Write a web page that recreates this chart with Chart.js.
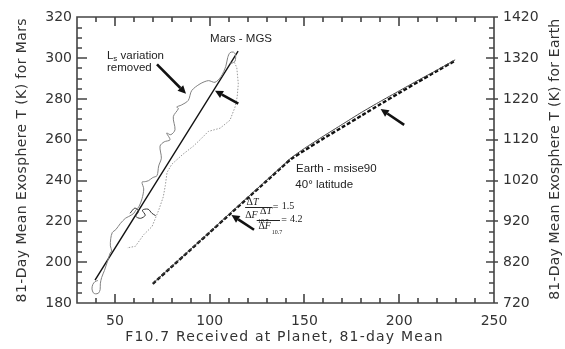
<!DOCTYPE html>
<html><head><meta charset="utf-8">
<style>html,body{margin:0;padding:0;background:#fff;}canvas{display:block;}</style>
<script src="https://cdn.jsdelivr.net/npm/chart.js@4.4.1/dist/chart.umd.min.js"></script>
</head><body>
<canvas id="c" width="565" height="349"></canvas>
<script>
// ---- data ----
const xTickLabels = [50, 100, 150, 200, 250];
const marsTickLabels = [180, 200, 220, 240, 260, 280, 300, 320];
const earthTickLabels = [720, 820, 920, 1020, 1120, 1220, 1320, 1420];

const marsFitF = [39.5, 115.0];
const marsFitT = [191.2, 303.5];

const marsTraceAF = [41.0,39.5,38.3,37.9,38.6,39.7,41.3,42.2,42.3,43.0,44.5,46.7,47.5,48.3,47.6,47.8,48.6,50.5,52.9,55.5,57.3,59.9,61.0,62.6,64.3,65.2,64.3,66.0,67.8,70.0,72.2,73.1,74.5,73.8,76.0,79.1,77.3,79.5,81.7,80.8,83.5,82.6,85.0,88.7,90.5,94.9,99.3,102.8,106.0,108.5,109.5,110.7,112.5,113.6,113.4,111.5,110.7];
const marsTraceAT = [191.0,190.5,189.0,186.9,185.0,184.5,184.8,186.5,189.4,192.5,196.0,202.2,204.5,205.5,208.0,211.5,214.5,216.0,219.0,221.5,222.4,223.9,225.5,227.1,231.1,235.9,239.2,239.5,240.0,241.5,242.4,247.2,251.0,256.9,259.0,260.0,263.3,262.5,264.9,271.3,275.3,276.1,277.0,279.3,284.1,287.4,289.0,288.2,291.0,296.0,300.3,302.7,303.0,301.8,298.6,297.5,297.8];

const marsTraceBF = [113.0,114.3,115.1,114.5,113.4,110.7,105.5,99.3,94.9,91.4,86.0,80.0,77.5,76.6,75.5,73.1,69.6,65.2,60.8,56.4];
const marsTraceBT = [298.0,295.4,287.4,281.0,276.1,269.6,265.7,264.1,260.0,256.9,253.0,248.0,244.0,237.6,232.0,225.5,217.5,213.5,207.8,207.0];

const marsTangleF = [58.0,60.5,62.5,61.0,63.5,66.0,64.5,67.5,69.5,71.5];
const marsTangleT = [224.0,226.5,225.0,222.5,221.5,223.0,225.5,226.0,224.0,222.8];

const earthF = [70, 80, 90, 100, 110, 120, 130, 140, 143, 150, 160, 170, 180, 190, 200, 210, 220, 229.5];
const earthDashedT = [767, 809, 851, 893, 935, 977, 1019, 1061, 1073, 1094, 1123, 1151, 1179, 1207, 1235, 1262, 1289, 1314];
const earthSolidT  = [768, 810, 852, 894, 937, 979, 1021, 1063, 1076, 1099, 1129, 1158, 1187, 1214, 1240, 1266, 1291, 1316];

const zip = (a, b) => a.map((v, i) => ({x: v, y: b[i]}));

const FONT = 'DejaVu Sans';
const TXT = '#333';

// ---- annotations, frame, IDL-style ticks, titles ----
const idlPlugin = {
  id: 'idl',
  afterDraw(chart) {
    const ctx = chart.ctx, a = chart.chartArea;
    const sx = chart.scales.x, sy = chart.scales.y, sy2 = chart.scales.y2;
    const P = (fx, ty) => [sx.getPixelForValue(fx), sy.getPixelForValue(ty)];
    ctx.save();
    const L = Math.round(a.left), R = Math.round(a.right), T = Math.round(a.top), B = Math.round(a.bottom);
    ctx.strokeStyle = '#444'; ctx.lineWidth = 1.6; ctx.lineCap = 'butt';
    ctx.beginPath();
    // frame
    ctx.rect(L, T, R - L, B - T);
    // inward ticks
    const xs = [];
    for (let v = 30; v <= 250; v += 10) xs.push(v);
    xs.forEach(v => {
      const px = Math.round(sx.getPixelForValue(v));
      const len = xTickLabels.includes(v) ? 9 : 5;
      ctx.moveTo(px, B); ctx.lineTo(px, B - len);
      ctx.moveTo(px, T); ctx.lineTo(px, T + len);
    });
    for (let v = 180; v <= 320; v += 5) {
      const py = Math.round(sy.getPixelForValue(v));
      const len = marsTickLabels.includes(v) ? 10 : 5;
      ctx.moveTo(L, py); ctx.lineTo(L + len, py);
    }
    for (let v = 720; v <= 1420; v += 25) {
      const py = Math.round(sy2.getPixelForValue(v));
      if (earthTickLabels.includes(v)) { ctx.moveTo(R - 8, py); ctx.lineTo(R + 4, py); }
      else { ctx.moveTo(R - 5, py); ctx.lineTo(R, py); }
    }
    ctx.stroke();

    // arrows
    const arrow = (t, h) => {
      const p1 = P(t[0], t[1]); const p2 = P(h[0], h[1]);
      const ang = Math.atan2(p2[1] - p1[1], p2[0] - p1[0]);
      const hl = 8, hw = 4;
      const bx = p2[0] - hl * Math.cos(ang), by = p2[1] - hl * Math.sin(ang);
      ctx.strokeStyle = '#111'; ctx.fillStyle = '#111'; ctx.lineWidth = 2.6;
      ctx.beginPath(); ctx.moveTo(p1[0], p1[1]); ctx.lineTo(bx, by); ctx.stroke();
      ctx.beginPath(); ctx.moveTo(p2[0], p2[1]);
      ctx.lineTo(bx + hw * Math.sin(ang), by - hw * Math.cos(ang));
      ctx.lineTo(bx - hw * Math.sin(ang), by + hw * Math.cos(ang));
      ctx.closePath(); ctx.fill();
    };
    arrow([72.2, 297.0], [87.5, 282.6]);
    arrow([115.1, 277.7], [102.8, 284.1]);
    arrow([202.6, 267.3], [190.2, 275.1]);
    arrow([123.4, 215.9], [111.5, 223.1]);

    // sans annotations
    ctx.fillStyle = '#222'; ctx.textBaseline = 'middle'; ctx.textAlign = 'left';
    const sans = '11.5px "Liberation Sans", Arial, sans-serif';
    ctx.font = sans;
    let q = P(100.2, 309.3); ctx.fillText('Mars - MGS', q[0], q[1]);
    q = P(45.8, 301.0);
    ctx.fillText('L', q[0], q[1]);
    const w = ctx.measureText('L').width;
    ctx.font = '8px "Liberation Sans", Arial, sans-serif'; ctx.fillText('s', q[0] + w, q[1] + 3);
    const w2 = ctx.measureText('s').width;
    ctx.font = sans; ctx.fillText(' variation', q[0] + w + w2, q[1]);
    q = P(45.8, 295.4); ctx.fillText('removed', q[0], q[1]);
    q = P(145.6, 245.6); ctx.fillText('Earth - msise90', q[0], q[1]);
    q = P(145.2, 238.0); ctx.fillText('40\u00B0 latitude', q[0], q[1]);

    // serif fraction annotations
    const serif = '10px "Liberation Serif", "Times New Roman", serif';
    const serifI = 'italic 10px "Liberation Serif", "Times New Roman", serif';
    const dl = (fx, ty0, letter) => {
      const p = P(fx, ty0);
      ctx.font = serif; ctx.fillText('\u0394', p[0], p[1]);
      const dw = ctx.measureText('\u0394').width;
      ctx.font = serifI; ctx.fillText(letter, p[0] + dw, p[1]);
    };
    const bar = (f1, f2, t0) => {
      const p1 = P(f1, t0), p2 = P(f2, t0);
      ctx.fillRect(p1[0], Math.round(p1[1]), p2[0] - p1[0], 1);
    };
    const txt = (fx, t0, s, f) => { const p = P(fx, t0); ctx.font = f || serif; ctx.fillText(s, p[0], p[1]); };
    const sub = '6px "Liberation Serif", serif';
    dl(119.4, 229.5, 'T');
    bar(118.7, 132.8, 227.1);
    dl(118.7, 223.1, 'F');
    txt(125.5, 220.0, '10.7', sub);
    txt(133.3, 227.1, '=');
    txt(138.0, 227.6, '1.5');
    dl(126.6, 224.7, 'T');
    bar(124.8, 137.1, 220.7);
    dl(125.7, 217.5, 'F');
    txt(132.7, 214.8, '10.7', sub);
    txt(137.8, 220.7, '=');
    txt(142.4, 220.9, '4.2');

    // axis titles
    ctx.fillStyle = TXT; ctx.textAlign = 'center'; ctx.textBaseline = 'middle';
    ctx.font = '14px "' + FONT + '"';
    ctx.letterSpacing = '1.2px';
    ctx.fillText('F10.7 Received at Planet, 81-day Mean', (a.left + a.right) / 2 - 1, 337);
    ctx.letterSpacing = '0.4px';
    ctx.save(); ctx.translate(22, (a.top + a.bottom) / 2); ctx.rotate(-Math.PI / 2);
    ctx.fillText('81-Day Mean Exosphere T (K) for Mars', 0, 0); ctx.restore();
    ctx.letterSpacing = '0.2px';
    ctx.save(); ctx.translate(555, (a.top + a.bottom) / 2 - 1); ctx.rotate(-Math.PI / 2);
    ctx.fillText('81-Day Mean Exosphere T (K) for Earth', 0, 0); ctx.restore();
    ctx.letterSpacing = '0px';
    ctx.restore();
  }
};

new Chart(document.getElementById('c'), {
  type: 'line',
  data: {
    datasets: [
      {data: zip(marsTraceBF, marsTraceBT), yAxisID: 'y', borderColor: '#9a9a9a', borderWidth: 1, borderDash: [1.5, 1.5], pointRadius: 0, tension: 0},
      {data: zip(marsTraceAF, marsTraceAT), yAxisID: 'y', borderColor: '#808080', borderWidth: 1, pointRadius: 0, tension: 0.3},
      {data: zip(marsTangleF, marsTangleT), yAxisID: 'y', borderColor: '#333', borderWidth: 1, pointRadius: 0, tension: 0.3},
      {data: zip(marsFitF, marsFitT), yAxisID: 'y', borderColor: '#111', borderWidth: 1.4, pointRadius: 0},
      {data: zip(earthF, earthSolidT), yAxisID: 'y2', borderColor: '#444', borderWidth: 1, pointRadius: 0, tension: 0.15},
      {data: zip(earthF, earthDashedT), yAxisID: 'y2', borderColor: '#111', borderWidth: 2.4, borderDash: [4, 2], pointRadius: 0, tension: 0.15}
    ]
  },
  options: {
    responsive: false, animation: false, devicePixelRatio: 1,
    layout: {padding: {top: 12, left: 0, right: 0, bottom: 0}},
    plugins: {legend: {display: false}, tooltip: {enabled: false}},
    scales: {
      x: {
        type: 'linear', position: 'bottom', min: 30, max: 250,
        grid: {display: false, drawTicks: false}, border: {display: false},
        ticks: {stepSize: 10, autoSkip: false, maxRotation: 0, padding: 10, color: TXT, font: {family: FONT, size: 14},
          callback: v => xTickLabels.includes(v) ? String(v) : ''},
        afterFit: s => { s.height = 46; }
      },
      y: {
        type: 'linear', position: 'left', min: 180, max: 320,
        grid: {display: false, drawTicks: false}, border: {display: false},
        ticks: {stepSize: 20, padding: 5, color: TXT, font: {family: FONT, size: 14},
          callback: v => marsTickLabels.includes(v) ? String(v) : ''},
        afterFit: s => { s.width = 77; }
      },
      y2: {
        type: 'linear', position: 'right', min: 720, max: 1420,
        grid: {display: false, drawTicks: false}, border: {display: false},
        ticks: {stepSize: 100, padding: 9, color: TXT, font: {family: FONT, size: 14},
          callback: v => earthTickLabels.includes(v) ? String(v) : ''},
        afterFit: s => { s.width = 71; }
      }
    }
  },
  plugins: [idlPlugin]
});
</script>
</body></html>
